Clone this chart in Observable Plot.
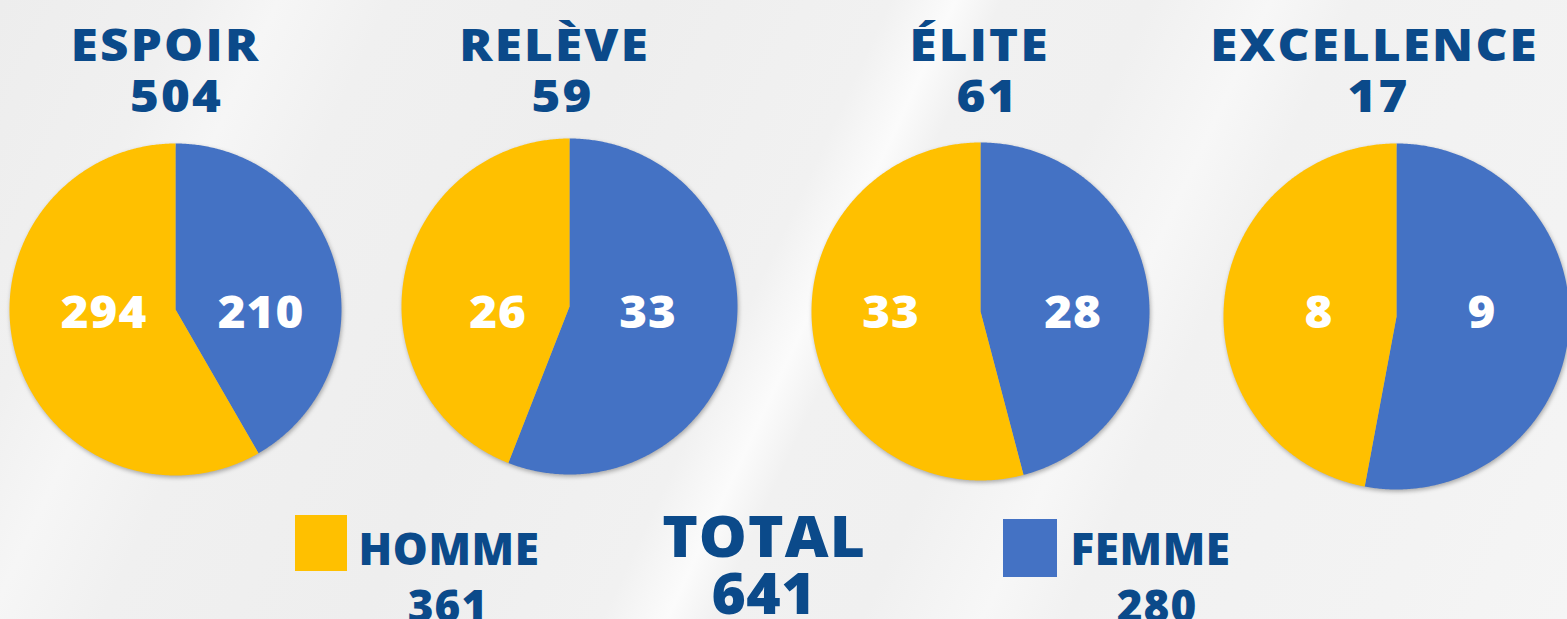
<!DOCTYPE html>
<html>
<head>
<meta charset="utf-8">
<script src="https://cdn.jsdelivr.net/npm/d3@7"></script>
<script src="https://cdn.jsdelivr.net/npm/@observablehq/plot@0.6"></script>
<style>
  html, body { margin: 0; padding: 0; }
  body {
    width: 1567px; height: 619px; overflow: hidden;
    background: linear-gradient(115deg,
      #ededed 0%, #f0f0f0 10%, #f6f6f6 15%, #f0f0f0 21%, #eeeeee 35%,
      #f1f1f1 48%, #fbfbfb 51.5%, #f1f1f1 54%, #f0f0f0 62%,
      #f7f7f7 68.5%, #f1f1f1 73%, #f3f3f3 90%, #f5f5f5 100%);
  }
  #chart svg { background: transparent !important; display: block; }
  #chart svg text { font-family: "Open Sans", sans-serif; font-weight: 800; }
  #chart g[aria-label="line"] { filter: drop-shadow(1px 2px 2px rgba(0,0,0,0.3)); }
</style>
</head>
<body>
<div id="chart"></div>
<script>
// ---- data ----
const levels = ["ESPOIR", "RELÈVE", "ÉLITE", "EXCELLENCE"];
const levelTotals = [504, 59, 61, 17];
const hommeValues = [294, 26, 33, 8];
const femmeValues = [210, 33, 28, 9];
const sexes = ["HOMME", "FEMME"];
const sexTotals = [361, 280];
const totalLabel = "TOTAL";
const grandTotal = 641;

// ---- layout (pixels in the 1567x619 frame) ----
const W = 1567, H = 619;
const layout = {
  pieCx: [175, 569, 980, 1396],
  pieCy: [309, 306, 311, 316],
  pieR: [166, 168, 169, 173],
  hommeLabelDx: [-72, -72, -90, -78],
  femmeLabelDx: [85, 78, 92, 85],
  titleX: [164, 553, 978, 1373],
  titleY: 60,
  countX: [175, 561, 986, 1377],
  countY: 111,
  sliceLabelY: 313,
  legendBox: [{x1: 295, x2: 347, y1: 515, y2: 571}, {x1: 1003, x2: 1057, y1: 519, y2: 577}],
  legendLabelX: [358, 1070],
  legendLabelY: 564,
  legendValueX: [447, 1156],
  legendValueY: 621,
  totalX: 763,
  totalY: 556,
  grandY: 613
};
// per text group (in mark order): letter spacing (px) and horizontal stretch
const textStyle = {
  slice: {ls: 1, s: 1.08},
  title: {ls: 2, s: 1.12},
  count: {ls: 1.9, s: 1.12},
  legendLabel: {ls: 0.6, s: 1.0},
  legendValue: {ls: 1, s: 1.0},
  total: {ls: 1, s: 1.06},
  grand: {ls: 0.5, s: 1.03}
};
const dxOf = k => textStyle[k].ls * textStyle[k].s / 2;
const colors = {HOMME: "#FFC000", FEMME: "#4472C4"};
const navy = "#0b4a8a";

// slices: femme starts at 12 o'clock clockwise, homme fills the rest
const slicePts = [];
levels.forEach((lvl, i) => {
  const cx = layout.pieCx[i], cy = layout.pieCy[i], r = layout.pieR[i];
  const total = hommeValues[i] + femmeValues[i];
  const split = 2 * Math.PI * femmeValues[i] / total;
  const parts = [
    {sex: "FEMME", a0: 0, a1: split},
    {sex: "HOMME", a0: split, a1: 2 * Math.PI}
  ];
  parts.forEach(p => {
    const id = lvl + "-" + p.sex;
    slicePts.push({id, sex: p.sex, x: cx, y: cy});
    const n = Math.max(2, Math.ceil((p.a1 - p.a0) / (Math.PI / 360)));
    for (let k = 0; k <= n; k++) {
      const a = p.a0 + (p.a1 - p.a0) * k / n;
      slicePts.push({id, sex: p.sex, x: cx + r * Math.sin(a), y: cy - r * Math.cos(a)});
    }
    slicePts.push({id, sex: p.sex, x: cx, y: cy});
  });
});

const titleRows = levels.map((lvl, i) => ({t: lvl, x: layout.titleX[i], y: layout.titleY}));
const countRows = levelTotals.map((v, i) => ({t: String(v), x: layout.countX[i], y: layout.countY}));
const sliceLabels = [];
levels.forEach((lvl, i) => {
  sliceLabels.push({t: String(hommeValues[i]), x: layout.pieCx[i] + layout.hommeLabelDx[i], y: layout.sliceLabelY});
  sliceLabels.push({t: String(femmeValues[i]), x: layout.pieCx[i] + layout.femmeLabelDx[i], y: layout.sliceLabelY});
});
const legendRects = sexes.map((s, i) => ({sex: s, ...layout.legendBox[i]}));
const legendLabels = sexes.map((s, i) => ({t: s, x: layout.legendLabelX[i], y: layout.legendLabelY}));
const legendValues = sexTotals.map((v, i) => ({t: String(v), x: layout.legendValueX[i], y: layout.legendValueY}));

const chart = Plot.plot({
  width: W, height: H,
  margin: 0,
  x: {domain: [0, W], range: [0, W], axis: null},
  y: {domain: [0, H], range: [0, H], axis: null},
  color: {domain: sexes, range: sexes.map(s => colors[s])},
  style: {background: "transparent", overflow: "visible"},
  marks: [
    Plot.line(slicePts, {x: "x", y: "y", z: "id", fill: "sex", stroke: null, curve: "linear"}),
    Plot.text(sliceLabels, {x: "x", y: "y", text: "t", fill: "white", fontSize: 44, textAnchor: "middle", lineAnchor: "middle", dx: dxOf("slice")}),
    Plot.text(titleRows, {x: "x", y: "y", text: "t", fill: navy, fontSize: 44, textAnchor: "middle", lineAnchor: "bottom", dx: dxOf("title")}),
    Plot.text(countRows, {x: "x", y: "y", text: "t", fill: navy, fontSize: 44, textAnchor: "middle", lineAnchor: "bottom", dx: dxOf("count")}),
    Plot.rect(legendRects, {x1: "x1", x2: "x2", y1: "y1", y2: "y2", fill: "sex"}),
    Plot.text(legendLabels, {x: "x", y: "y", text: "t", fill: navy, fontSize: 44, textAnchor: "start", lineAnchor: "bottom"}),
    Plot.text(legendValues, {x: "x", y: "y", text: "t", fill: navy, fontSize: 44, textAnchor: "middle", lineAnchor: "bottom", dx: dxOf("legendValue")}),
    Plot.text([{t: totalLabel}], {x: () => layout.totalX, y: () => layout.totalY, text: "t", fill: navy, fontSize: 57, textAnchor: "middle", lineAnchor: "bottom", dx: dxOf("total")}),
    Plot.text([{t: String(grandTotal)}], {x: () => layout.totalX, y: () => layout.grandY, text: "t", fill: navy, fontSize: 57, textAnchor: "middle", lineAnchor: "bottom", dx: dxOf("grand")})
  ]
});
// apply letter spacing and horizontal stretch (around each text's anchor)
const groups = chart.querySelectorAll('g[aria-label="text"]');
const order = ["slice", "title", "count", "legendLabel", "legendValue", "total", "grand"];
groups.forEach((g, i) => {
  const st = textStyle[order[i]];
  if (!st) return;
  g.setAttribute("letter-spacing", st.ls + "px");
  g.querySelectorAll("text").forEach(t => {
    const tr = t.getAttribute("transform");
    if (tr) {
      t.setAttribute("transform", tr + ` scale(${st.s},1)`);
    } else {
      const x = +(t.getAttribute("x") || 0);
      t.setAttribute("transform", `translate(${x},0) scale(${st.s},1) translate(${-x},0)`);
    }
  });
});
document.getElementById("chart").appendChild(chart);
</script>
</body>
</html>
